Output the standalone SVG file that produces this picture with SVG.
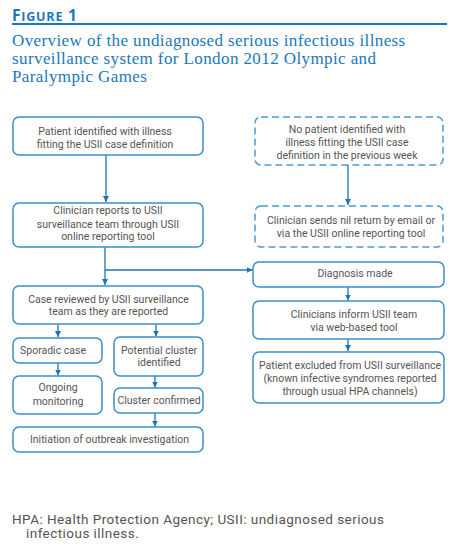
<svg xmlns="http://www.w3.org/2000/svg" width="457" height="546" viewBox="0 0 457 546">
<defs>
<marker id="ah" viewBox="0 0 6 6" refX="6" refY="3" markerWidth="6" markerHeight="6" markerUnits="userSpaceOnUse" orient="auto">
<path d="M0,0 L6,3 L0,6 Z" fill="#1f74b6"/>
</marker>
</defs>
<style>
.box{fill:#fff;stroke:#3a8fcb;stroke-width:1.5}
.dash{fill:#fff;stroke:#4a9ad4;stroke-width:1.5;stroke-dasharray:7 4}
.t{font-family:Roboto,"Noto Sans",sans-serif;font-size:10.5px;fill:#555;text-anchor:middle}
.c{fill:none;stroke:#1f74b6;stroke-width:1.3}
</style>
<rect width="457" height="546" fill="#fff"/>
<g id="header">
<text x="12" y="20.5" font-family="'Open Sans','Noto Sans',sans-serif" font-weight="bold" fill="#1a78bd" letter-spacing="0.8"><tspan font-size="15.5">F</tspan><tspan font-size="12.5">IGURE</tspan><tspan font-size="15.5"> 1</tspan></text>
<line x1="12" y1="24" x2="447" y2="24" stroke="#1a78bd" stroke-width="2"/>
<text font-family="'Liberation Serif',serif" font-size="17" fill="#1a78bd" letter-spacing="0.4"><tspan x="12" y="46">Overview of the undiagnosed serious infectious illness</tspan><tspan x="12" y="63.7">surveillance system for London 2012 Olympic and</tspan><tspan x="12" y="81.5">Paralympic Games</tspan></text>
</g>
<g id="connectors">
<path class="c" d="M106,155 V202" marker-end="url(#ah)"/>
<path class="c" d="M105,247 V285" marker-end="url(#ah)"/>
<path class="c" d="M105,270 H252.5" marker-end="url(#ah)"/>
<path class="c" d="M348,165 V205" marker-end="url(#ah)"/>
<path class="c" d="M58,324 V337" marker-end="url(#ah)"/>
<path class="c" d="M156,324 V336.5" marker-end="url(#ah)"/>
<path class="c" d="M58,363 V375.5" marker-end="url(#ah)"/>
<path class="c" d="M155,376 V387.5" marker-end="url(#ah)"/>
<path class="c" d="M155,413 V426.5" marker-end="url(#ah)"/>
<path class="c" d="M348,287 V300.5" marker-end="url(#ah)"/>
<path class="c" d="M348,339 V351" marker-end="url(#ah)"/>
</g>
<g id="n1"><rect class="box" x="13" y="117" width="190" height="38" rx="6"/>
<text class="t"><tspan x="105" y="135">Patient identified with illness</tspan><tspan x="105" y="147.5">fitting the USII case definition</tspan></text></g>
<g id="n2"><rect class="box" x="13" y="203" width="190" height="44" rx="6"/>
<text class="t"><tspan x="108" y="214">Clinician reports to USII</tspan><tspan x="108" y="227.5">surveillance team through USII</tspan><tspan x="108" y="240">online reporting tool</tspan></text></g>
<g id="d1"><rect class="dash" x="255" y="117" width="188" height="48" rx="6"/>
<text class="t"><tspan x="347" y="132.5">No patient identified with</tspan><tspan x="347" y="146">illness fitting the USII case</tspan><tspan x="347" y="158.5">definition in the previous week</tspan></text></g>
<g id="d2"><rect class="dash" x="255" y="206" width="188" height="41" rx="6"/>
<text class="t"><tspan x="351" y="223.5">Clinician sends nil return by email or</tspan><tspan x="351" y="237">via the USII online reporting tool</tspan></text></g>
<g id="n3"><rect class="box" x="13" y="286" width="190" height="38" rx="6"/>
<text class="t"><tspan x="108.5" y="302.5">Case reviewed by USII surveillance</tspan><tspan x="108.5" y="315">team as they are reported</tspan></text></g>
<g id="n4"><rect class="box" x="13" y="338" width="89" height="25" rx="6"/>
<text class="t" x="53" y="354">Sporadic case</text></g>
<g id="n5"><rect class="box" x="13" y="376" width="89" height="38" rx="6"/>
<text class="t"><tspan x="58" y="391">Ongoing</tspan><tspan x="58" y="405">monitoring</tspan></text></g>
<g id="n6"><rect class="box" x="114" y="337" width="89" height="39" rx="6"/>
<text class="t"><tspan x="159" y="353.5">Potential cluster</tspan><tspan x="159" y="366">identified</tspan></text></g>
<g id="n7"><rect class="box" x="114" y="388" width="89" height="25" rx="6"/>
<text class="t" x="159" y="404">Cluster confirmed</text></g>
<g id="n8"><rect class="box" x="13" y="427" width="190" height="25" rx="6"/>
<text class="t" x="109.5" y="442.5">Initiation of outbreak investigation</text></g>
<g id="n9"><rect class="box" x="253" y="262" width="191" height="25" rx="6"/>
<text class="t" x="355" y="277">Diagnosis made</text></g>
<g id="n10"><rect class="box" x="253" y="301" width="191" height="38" rx="6"/>
<text class="t"><tspan x="354" y="317.5">Clinicians inform USII team</tspan><tspan x="354" y="331">via web-based tool</tspan></text></g>
<g id="n11"><rect class="box" x="253" y="352" width="191" height="51" rx="6"/>
<text class="t"><tspan x="350" y="368.5">Patient excluded from USII surveillance</tspan><tspan x="350" y="382">(known infective syndromes reported</tspan><tspan x="350" y="394.5">through usual HPA channels)</tspan></text></g>
<g id="footer">
<text font-family="Roboto,'Noto Sans',sans-serif" font-size="13.5" fill="#555" letter-spacing="0.45"><tspan x="12" y="523.5">HPA: Health Protection Agency; USII: undiagnosed serious</tspan><tspan x="26" y="538">infectious illness.</tspan></text>
</g>
</svg>
